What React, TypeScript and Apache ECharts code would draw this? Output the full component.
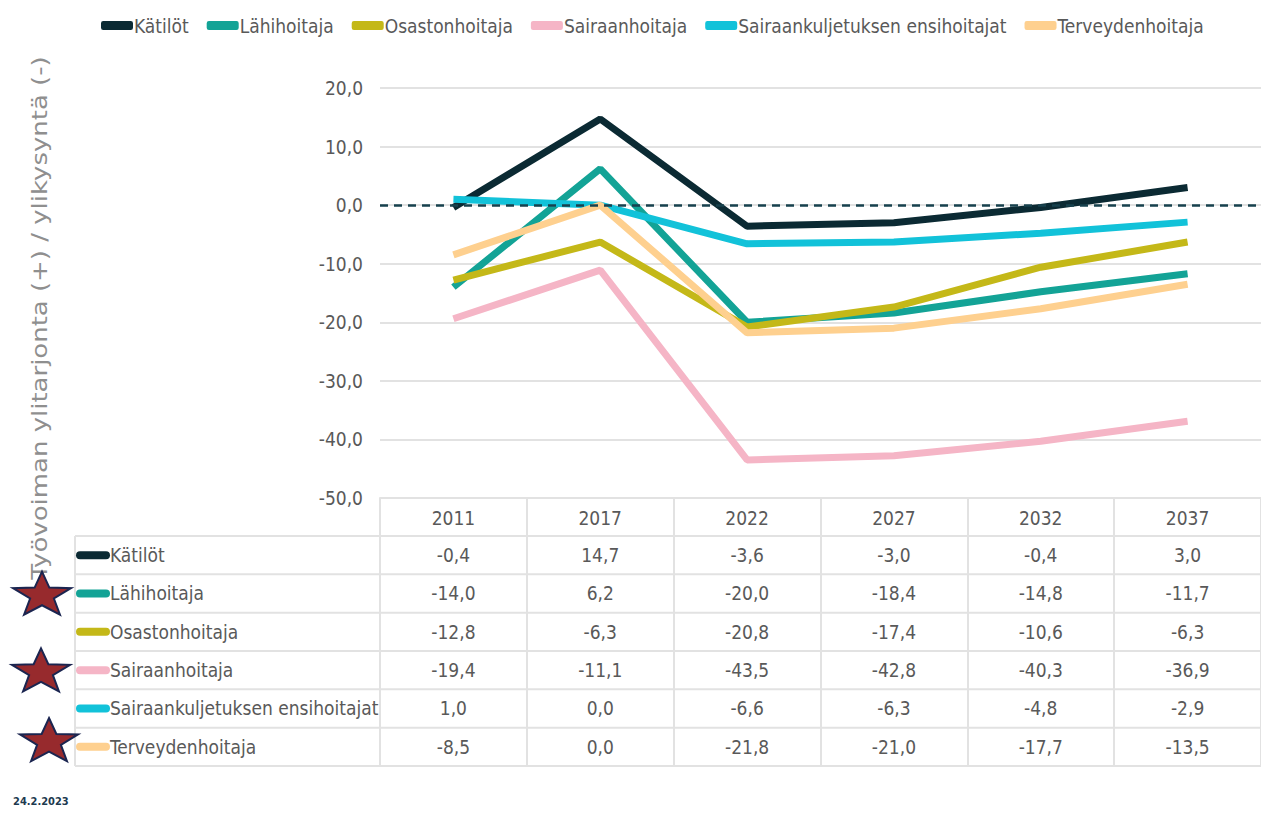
import React, { useEffect, useRef } from "react";
import * as echarts from "echarts";

const years = ["2011", "2017", "2022", "2027", "2032", "2037"];
const seriesNames = [
  "Kätilöt",
  "Lähihoitaja",
  "Osastonhoitaja",
  "Sairaanhoitaja",
  "Sairaankuljetuksen ensihoitajat",
  "Terveydenhoitaja",
];
const katilot = [-0.4, 14.7, -3.6, -3.0, -0.4, 3.0];
const lahihoitaja = [-14.0, 6.2, -20.0, -18.4, -14.8, -11.7];
const osastonhoitaja = [-12.8, -6.3, -20.8, -17.4, -10.6, -6.3];
const sairaanhoitaja = [-19.4, -11.1, -43.5, -42.8, -40.3, -36.9];
const ensihoitajat = [1.0, 0.0, -6.6, -6.3, -4.8, -2.9];
const terveydenhoitaja = [-8.5, 0.0, -21.8, -21.0, -17.7, -13.5];
const seriesValues = [katilot, lahihoitaja, osastonhoitaja, sairaanhoitaja, ensihoitajat, terveydenhoitaja];
const seriesColors = ["#0b2a33", "#13a396", "#c4b818", "#f5b5c6", "#12c2d9", "#fed08f"];
const starredRows = ["Lähihoitaja", "Sairaanhoitaja", "Terveydenhoitaja"];
const yMin = -50;
const yMax = 20;
const yStep = 10;
const yAxisTitle = "Työvoiman ylitarjonta (+) / ylikysyntä (-)";
const dateText = "24.2.2023";

const FONT = "'DejaVu Sans Condensed', 'Liberation Sans Narrow', 'Liberation Sans', sans-serif";
const TXT = "#595959";
const GRID = "#e2e2e2";

const fmt = (v: number) => v.toFixed(1).replace(".", ",");

function starPoints(cx: number, cy: number, R: number, r: number, sy: number) {
  const pts: number[][] = [];
  for (let i = 0; i < 10; i++) {
    const a = -Math.PI / 2 + (i * Math.PI) / 5;
    const rad = i % 2 === 0 ? R : r;
    pts.push([cx + rad * Math.cos(a), cy + rad * Math.sin(a) * sy]);
  }
  return pts;
}

export default function App() {
  const ref = useRef<HTMLDivElement>(null);
  useEffect(() => {
    if (!ref.current) return;
    const chart = echarts.init(ref.current, null, { renderer: "svg" });
    const option: any = {
      animation: false,
      color: seriesColors,
      textStyle: { fontFamily: FONT },
      legend: {
        left: 96,
        top: 11,
        data: seriesNames,
        icon: "roundRect",
        itemWidth: 32,
        itemHeight: 9,
        itemGap: 18,
        textStyle: { fontSize: 19, color: TXT, fontFamily: FONT, padding: [0, 0, 0, -4] },
      },
      grid: { left: 380, right: -10, top: 88, bottom: 324 },
      xAxis: {
        type: "category",
        data: years,
        boundaryGap: true,
        axisLine: { show: true, onZero: false, lineStyle: { color: GRID, width: 2 } },
        axisTick: { show: true, length: 268, lineStyle: { color: GRID, width: 2 } },
        axisLabel: { fontSize: 19, color: TXT, margin: 10, fontFamily: FONT },
        splitLine: { show: false },
      },
      yAxis: {
        type: "value",
        min: yMin,
        max: yMax,
        interval: yStep,
        axisLine: { show: false },
        axisTick: { show: false },
        axisLabel: { fontSize: 19, color: TXT, margin: 17, fontFamily: FONT, formatter: (v: number) => fmt(v) },
        splitLine: { lineStyle: { color: GRID, width: 2 } },
      },
      series: [
        ...seriesNames.map((name, i) => ({
          name,
          type: "line",
          data: seriesValues[i],
          symbol: "none",
          lineStyle: { width: 7, color: seriesColors[i] },
          itemStyle: { color: seriesColors[i] },
        })),
        {
          name: "zero",
          type: "line",
          data: [],
          z: 10,
          markLine: {
            silent: true,
            symbol: ["none", "none"],
            label: { show: false },
            lineStyle: { color: "#17414e", type: [8, 6], width: 2.5 },
            data: [{ yAxis: 0 }],
          },
        },
      ],
    };
    chart.setOption(option);

    const yBottom = chart.convertToPixel({ yAxisIndex: 0 }, yMin) as number;
    const headerH = 38;
    const rowH = 38.33;
    const tableLeft = 75;
    const tableRight = 1275;
    const els: any[] = [];
    for (let i = 0; i <= seriesNames.length; i++) {
      const y = yBottom + headerH + i * rowH;
      els.push({
        type: "line",
        shape: { x1: tableLeft, y1: y, x2: tableRight, y2: y },
        style: { stroke: GRID, lineWidth: 2 },
        silent: true,
      });
    }
    els.push({
      type: "line",
      shape: { x1: tableLeft, y1: yBottom + headerH, x2: tableLeft, y2: yBottom + headerH + seriesNames.length * rowH },
      style: { stroke: GRID, lineWidth: 2 },
      silent: true,
    });
    seriesNames.forEach((name, i) => {
      const cy = yBottom + headerH + (i + 0.5) * rowH;
      els.push({
        type: "rect",
        shape: { x: 76, y: cy - 4, width: 34, height: 8, r: 4 },
        style: { fill: seriesColors[i] },
        silent: true,
      });
      els.push({
        type: "text",
        x: 110,
        y: cy,
        style: {
          text: name,
          fontSize: 19,
          fontFamily: FONT,
          fill: TXT,
          align: "left",
          verticalAlign: "middle",
          textAlign: "left",
          textVerticalAlign: "middle",
        },
        silent: true,
      });
      seriesValues[i].forEach((v, j) => {
        const cx = chart.convertToPixel({ xAxisIndex: 0 }, years[j]) as number;
        els.push({
          type: "text",
          x: cx,
          y: cy,
          style: {
            text: fmt(v),
            fontSize: 19,
            fontFamily: FONT,
            fill: TXT,
            align: "center",
            verticalAlign: "middle",
            textAlign: "center",
            textVerticalAlign: "middle",
          },
          silent: true,
        });
      });
    });
    // y axis title
    els.push({
      type: "text",
      x: 40,
      y: 318,
      rotation: Math.PI / 2,
      scaleX: 1.18,
      style: {
        text: yAxisTitle,
        fontSize: 22,
        fontFamily: "'DejaVu Sans', Verdana, sans-serif",
        fill: "#8f8f8f",
        align: "center",
        verticalAlign: "middle",
        textAlign: "center",
        textVerticalAlign: "middle",
      },
      silent: true,
    });
    // stars
    const starLayout = [
      { dx: 42, dy: 2 },
      { dx: 41, dy: 2 },
      { dx: 49, dy: -5 },
    ];
    starredRows.forEach((name, k) => {
      const i = seriesNames.indexOf(name);
      const cy = yBottom + headerH + (i + 0.5) * rowH + starLayout[k].dy;
      els.push({
        type: "polygon",
        z: 20,
        shape: { points: starPoints(starLayout[k].dx, cy, 30.5, 12.5, 0.78) },
        style: { fill: "#972a2d", stroke: "#1b2550", lineWidth: 2 },
        silent: true,
      });
    });
    els.push({
      type: "text",
      x: 13,
      y: 801,
      style: {
        text: dateText,
        fontSize: 11,
        fontWeight: "bold",
        fontFamily: FONT,
        fill: "#1d3a4f",
        align: "left",
        verticalAlign: "middle",
        textAlign: "left",
        textVerticalAlign: "middle",
      },
      silent: true,
    });
    chart.setOption({ graphic: { elements: els } });
    return () => chart.dispose();
  }, []);
  return (
    <div
      ref={ref}
      style={{ position: "fixed", left: 0, top: 0, width: 1261, height: 822, background: "#fff" }}
    />
  );
}
